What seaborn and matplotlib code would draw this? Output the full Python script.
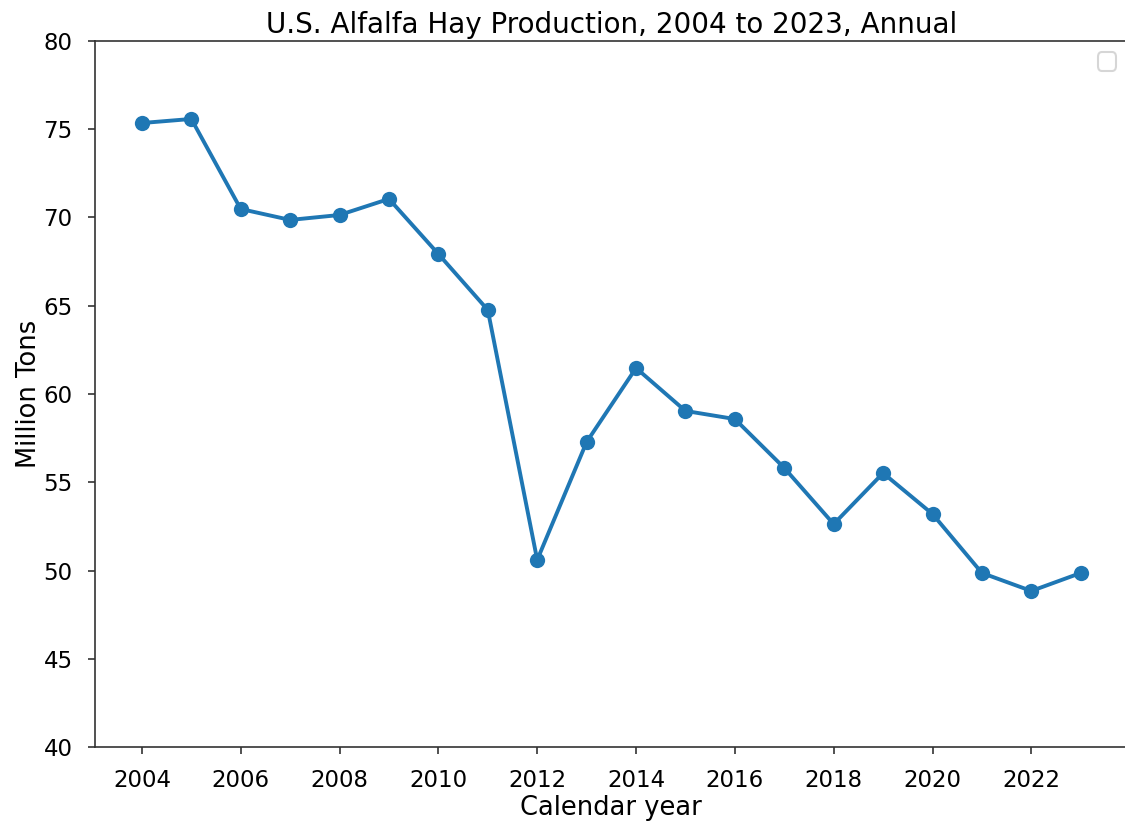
import matplotlib
matplotlib.use("Agg")
import matplotlib.pyplot as plt
import seaborn as sns
import pandas as pd

years = list(range(2004, 2024))
production = [75.35, 75.58, 70.48, 69.86, 70.14, 71.05, 67.93, 64.76, 50.6, 57.28,
              61.47, 59.04, 58.58, 55.81, 52.63, 55.52, 53.2, 49.86, 48.84, 49.86]

data = pd.DataFrame({"Calendar year": years, "Million Tons": production})

sns.set_context("talk")
fig = plt.figure(figsize=(11.25, 8.22), dpi=100)
ax = fig.add_axes([0.0844, 0.0912, 0.918, 0.859])

sns.lineplot(data=data, x="Calendar year", y="Million Tons", marker="o",
             color="#1f77b4", linewidth=2.8, markersize=11, markeredgewidth=0, ax=ax)

ax.set_ylim(40, 80)
ax.set_xticks(range(2004, 2024, 2))
ax.set_title("U.S. Alfalfa Hay Production, 2004 to 2023, Annual", fontsize=20, pad=6)
ax.set_xlabel("Calendar year", fontsize=18.5, labelpad=2)
ax.set_ylabel("Million Tons", fontsize=18.5, labelpad=1)
ax.tick_params(labelsize=16.5, length=5, width=1.2, color="#333333", pad=11)
for side in ["top", "bottom", "left"]:
    ax.spines[side].set_linewidth(1.2)
    ax.spines[side].set_color("#333333")
ax.spines["right"].set_visible(False)
ax.legend(handles=[], loc="upper right")

fig.savefig("out.png", dpi=100)
